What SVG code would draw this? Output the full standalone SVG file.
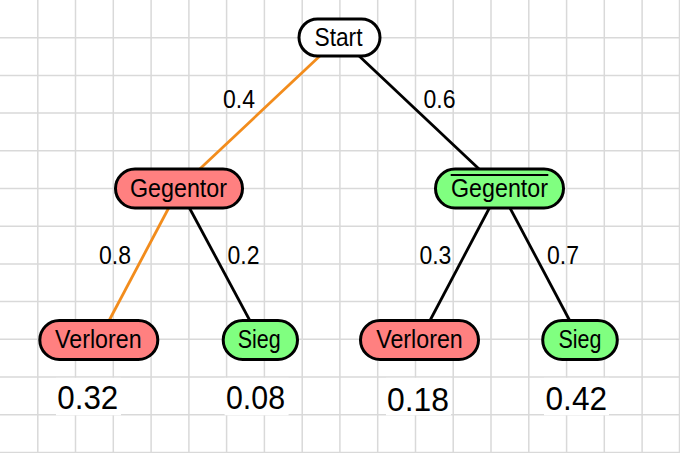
<svg xmlns="http://www.w3.org/2000/svg" width="680" height="453" viewBox="0 0 680 453">
<style>
.grid{stroke:#d9d9d9;stroke-width:1.5;fill:none}
.node{stroke:#000;stroke-width:3}
.red{fill:#ff8080}
.green{fill:#80ff80}
.white{fill:#fff}
.t{font-family:"Liberation Sans",Arial,sans-serif;font-size:26.5px;fill:#000;text-anchor:middle}
.lbl{font-family:"Liberation Sans",Arial,sans-serif;font-size:26px;fill:#000;text-anchor:middle}
.num{font-family:"Liberation Sans",Arial,sans-serif;font-size:32.5px;fill:#000;text-anchor:middle}
.edge{stroke:#000;stroke-width:2.8;fill:none}
.hl{stroke:#f28c1c;stroke-width:2.8;fill:none}
</style>
<rect width="680" height="453" fill="#fff"/>
<path class="grid" d="M37.8 0V453M75.5 0V453M113.3 0V453M151.1 0V453M188.9 0V453M226.6 0V453M264.4 0V453M302.2 0V453M339.9 0V453M377.7 0V453M415.5 0V453M453.2 0V453M491 0V453M528.8 0V453M566.6 0V453M604.3 0V453M642.1 0V453M679.5 0V453M0 37.7H680M0 75.4H680M0 113.1H680M0 150.8H680M0 188.5H680M0 226.2H680M0 263.9H680M0 301.6H680M0 339.3H680M0 377H680M0 414.7H680M0 452.4H680"/>
<g id="connectors">
<line class="hl" x1="339.5" y1="37.5" x2="179" y2="188.5"/>
<line class="edge" x1="339.5" y1="37.5" x2="499.7" y2="188.5"/>
<line class="hl" x1="179" y1="188.5" x2="98.8" y2="340"/>
<line class="edge" x1="179" y1="188.5" x2="260.3" y2="340"/>
<line class="edge" x1="499.7" y1="188.5" x2="419.7" y2="340"/>
<line class="edge" x1="499.7" y1="188.5" x2="580" y2="340"/>
</g>
<g id="edge-labels">
<text class="lbl" x="239" y="107.5" textLength="32" lengthAdjust="spacingAndGlyphs">0.4</text>
<text class="lbl" x="439.5" y="107.5" textLength="32" lengthAdjust="spacingAndGlyphs">0.6</text>
<text class="lbl" x="115" y="263.5" textLength="32" lengthAdjust="spacingAndGlyphs">0.8</text>
<text class="lbl" x="243.5" y="263.5" textLength="32" lengthAdjust="spacingAndGlyphs">0.2</text>
<text class="lbl" x="435.4" y="263.5" textLength="32" lengthAdjust="spacingAndGlyphs">0.3</text>
<text class="lbl" x="563" y="263.5" textLength="32" lengthAdjust="spacingAndGlyphs">0.7</text>
</g>
<g id="start">
<rect class="node white" x="299" y="19" width="81" height="37" rx="18.5"/>
<text class="t" x="338.5" y="46" textLength="48" lengthAdjust="spacingAndGlyphs">Start</text>
</g>
<g id="gegentor">
<rect class="node red" x="115.5" y="169" width="127" height="39" rx="19.5"/>
<text class="t" x="178.5" y="197" textLength="97" lengthAdjust="spacingAndGlyphs">Gegentor</text>
</g>
<g id="kein-gegentor">
<rect class="node green" x="435.5" y="169" width="128" height="39" rx="19.5"/>
<text class="t" x="499.5" y="197" textLength="97" lengthAdjust="spacingAndGlyphs">Gegentor</text>
<line x1="450.7" y1="175" x2="548.3" y2="175" stroke="#000" stroke-width="1.8"/>
</g>
<g id="verloren-1">
<rect class="node red" x="39.8" y="320.5" width="118" height="39" rx="19.5"/>
<text class="t" x="98.3" y="348" textLength="86.5" lengthAdjust="spacingAndGlyphs">Verloren</text>
</g>
<g id="sieg-1">
<rect class="node green" x="223.2" y="320.5" width="74.3" height="39" rx="19.5"/>
<text class="t" x="259.2" y="348" textLength="43" lengthAdjust="spacingAndGlyphs">Sieg</text>
</g>
<g id="verloren-2">
<rect class="node red" x="360.5" y="320.5" width="118" height="39" rx="19.5"/>
<text class="t" x="419.5" y="348" textLength="86.5" lengthAdjust="spacingAndGlyphs">Verloren</text>
</g>
<g id="sieg-2">
<rect class="node green" x="542.7" y="320.5" width="74.6" height="39" rx="19.5"/>
<text class="t" x="580" y="348" textLength="43" lengthAdjust="spacingAndGlyphs">Sieg</text>
</g>
<g id="results">
<rect x="56" y="377.8" width="65" height="37.5" fill="#fff"/>
<rect x="224.6" y="377.8" width="64" height="37.5" fill="#fff"/>
<rect x="386" y="377.8" width="65" height="37.5" fill="#fff"/>
<rect x="544" y="377.8" width="65" height="37.5" fill="#fff"/>
<text class="num" x="87.8" y="408.5" textLength="61" lengthAdjust="spacingAndGlyphs">0.32</text>
<text class="num" x="255.5" y="409.2" textLength="59" lengthAdjust="spacingAndGlyphs">0.08</text>
<text class="num" x="418" y="410.7" textLength="62" lengthAdjust="spacingAndGlyphs">0.18</text>
<text class="num" x="576.3" y="410.2" textLength="61.5" lengthAdjust="spacingAndGlyphs">0.42</text>
</g>
</svg>
